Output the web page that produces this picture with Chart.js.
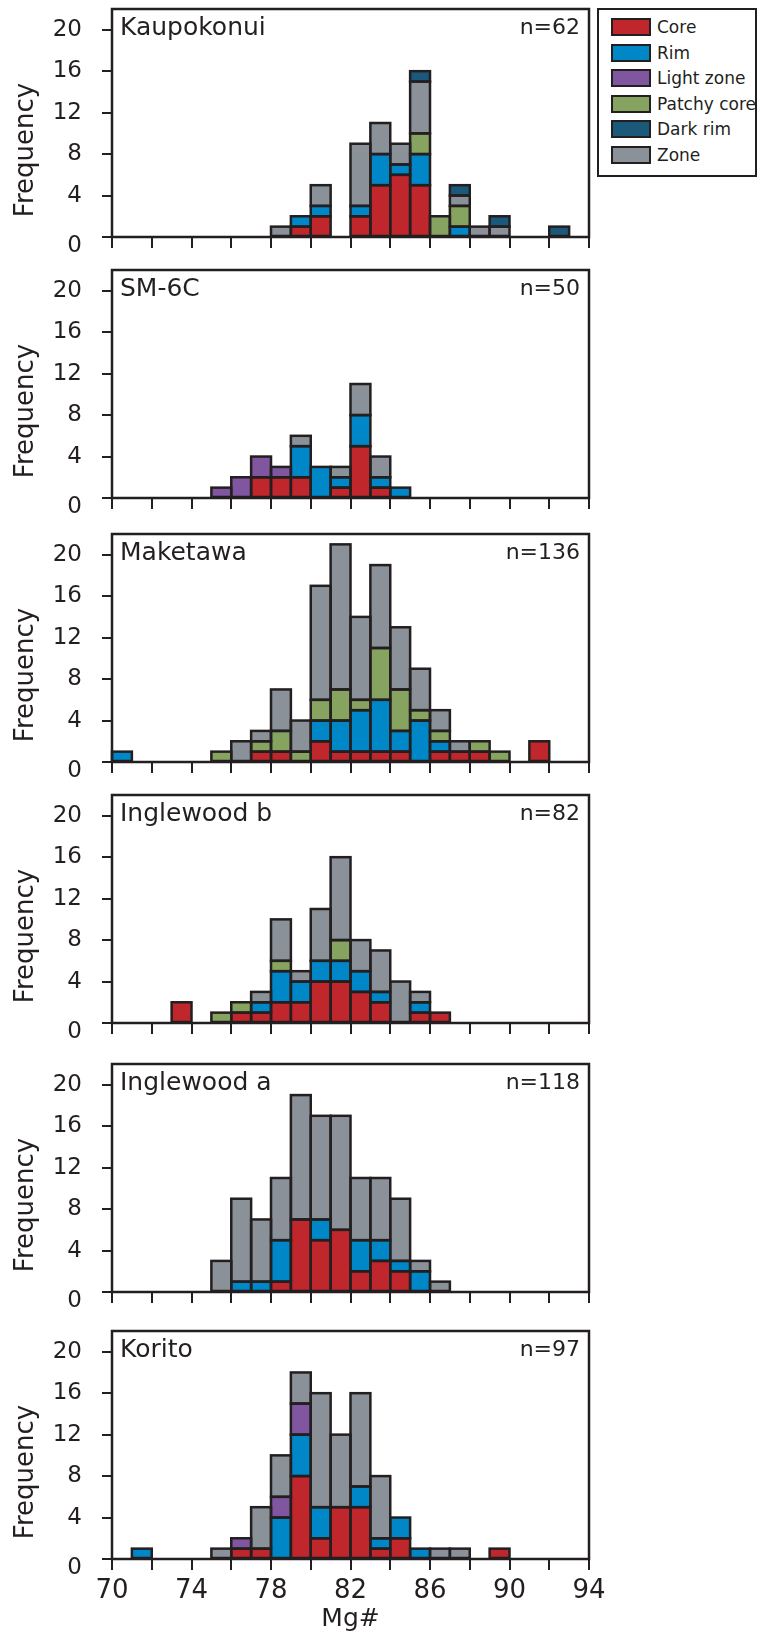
<!DOCTYPE html>
<html>
<head>
<meta charset="utf-8">
<script src="https://cdn.jsdelivr.net/npm/chart.js@4.4.1/dist/chart.umd.min.js"></script>
<style>
  body { margin: 0; background: #fff; }
  #page { position: relative; width: 761px; height: 1633px; overflow: hidden; font-family: 'DejaVu Sans', sans-serif; color: #231f20; }
  canvas { position: absolute; left: 0; }
  #legend { position: absolute; left: 597px; top: 8px; width: 160px; height: 169px; box-sizing: border-box; border: 2.5px solid #231f20; background: #fff; z-index: 2; }
  .sw { position: absolute; left: 611px; width: 40px; height: 18px; box-sizing: border-box; border: 2.5px solid #231f20; z-index: 3; }
  .lb { position: absolute; left: 657px; font-size: 17px; line-height: 22px; white-space: nowrap; z-index: 3; }
</style>
</head>
<body>
<div id="page"><div id="legend"></div></div>
<script>
// Bins de Mg# (borde izquierdo de cada barra, ancho 1)
const mgBins = [70, 71, 72, 73, 74, 75, 76, 77, 78, 79, 80, 81, 82, 83, 84, 85, 86, 87, 88, 89, 90, 91, 92, 93];
const freqTicks = [0, 4, 8, 12, 16, 20];
const mgTickLabels = [70, 74, 78, 82, 86, 90, 94];

const seriesNames = ['Core', 'Rim', 'Light zone', 'Patchy core', 'Dark rim', 'Zone'];
const seriesColors = ['#c0272d', '#0087c8', '#8056a0', '#86a45f', '#1b597a', '#8a9198'];
const stackOrder = ['Core', 'Rim', 'Light zone', 'Patchy core', 'Zone', 'Dark rim'];

const sampleNames = ['Kaupokonui', 'SM-6C', 'Maketawa', 'Inglewood b', 'Inglewood a', 'Korito'];
const sampleCounts = [62, 50, 136, 82, 118, 97];

// Kaupokonui
const kaupokonuiCore   = [0,0,0,0,0,0,0,0,0,1,2,0,2,5,6,5,0,0,0,0,0,0,0,0];
const kaupokonuiRim    = [0,0,0,0,0,0,0,0,0,1,1,0,1,3,1,3,0,1,0,0,0,0,0,0];
const kaupokonuiPatchy = [0,0,0,0,0,0,0,0,0,0,0,0,0,0,0,2,2,2,0,0,0,0,0,0];
const kaupokonuiZone   = [0,0,0,0,0,0,0,0,1,0,2,0,6,3,2,5,0,1,1,1,0,0,0,0];
const kaupokonuiDark   = [0,0,0,0,0,0,0,0,0,0,0,0,0,0,0,1,0,1,0,1,0,0,1,0];

// SM-6C
const sm6cCore  = [0,0,0,0,0,0,0,2,2,2,0,1,5,1,0,0,0,0,0,0,0,0,0,0];
const sm6cRim   = [0,0,0,0,0,0,0,0,0,3,3,1,3,1,1,0,0,0,0,0,0,0,0,0];
const sm6cLight = [0,0,0,0,0,1,2,2,1,0,0,0,0,0,0,0,0,0,0,0,0,0,0,0];
const sm6cZone  = [0,0,0,0,0,0,0,0,0,1,0,1,3,2,0,0,0,0,0,0,0,0,0,0];

// Maketawa
const maketawaCore   = [0,0,0,0,0,0,0,1,1,0,2,1,1,1,1,0,1,1,1,0,0,2,0,0];
const maketawaRim    = [1,0,0,0,0,0,0,0,0,0,2,3,4,5,2,4,1,0,0,0,0,0,0,0];
const maketawaPatchy = [0,0,0,0,0,1,0,1,2,1,2,3,1,5,4,1,1,0,1,1,0,0,0,0];
const maketawaZone   = [0,0,0,0,0,0,2,1,4,3,11,14,8,8,6,4,2,1,0,0,0,0,0,0];

// Inglewood b
const inglewoodBCore   = [0,0,0,2,0,0,1,1,2,2,4,4,3,2,0,1,1,0,0,0,0,0,0,0];
const inglewoodBRim    = [0,0,0,0,0,0,0,1,3,2,2,2,2,1,0,1,0,0,0,0,0,0,0,0];
const inglewoodBPatchy = [0,0,0,0,0,1,1,0,1,0,0,2,0,0,0,0,0,0,0,0,0,0,0,0];
const inglewoodBZone   = [0,0,0,0,0,0,0,1,4,1,5,8,3,4,4,1,0,0,0,0,0,0,0,0];

// Inglewood a
const inglewoodACore = [0,0,0,0,0,0,0,0,1,7,5,6,2,3,2,0,0,0,0,0,0,0,0,0];
const inglewoodARim  = [0,0,0,0,0,0,1,1,4,0,2,0,3,2,1,2,0,0,0,0,0,0,0,0];
const inglewoodAZone = [0,0,0,0,0,3,8,6,6,12,10,11,6,6,6,1,1,0,0,0,0,0,0,0];

// Korito
const koritoCore  = [0,0,0,0,0,0,1,1,0,8,2,5,5,1,2,0,0,0,0,1,0,0,0,0];
const koritoRim   = [0,1,0,0,0,0,0,0,4,4,3,0,2,1,2,1,0,0,0,0,0,0,0,0];
const koritoLight = [0,0,0,0,0,0,1,0,2,3,0,0,0,0,0,0,0,0,0,0,0,0,0,0];
const koritoZone  = [0,0,0,0,0,1,0,4,4,3,11,7,9,6,0,0,1,1,0,0,0,0,0,0];

const panelSeries = [
    { 'Core': kaupokonuiCore, 'Rim': kaupokonuiRim, 'Patchy core': kaupokonuiPatchy, 'Zone': kaupokonuiZone, 'Dark rim': kaupokonuiDark },
    { 'Core': sm6cCore, 'Rim': sm6cRim, 'Light zone': sm6cLight, 'Zone': sm6cZone },
    { 'Core': maketawaCore, 'Rim': maketawaRim, 'Patchy core': maketawaPatchy, 'Zone': maketawaZone },
    { 'Core': inglewoodBCore, 'Rim': inglewoodBRim, 'Patchy core': inglewoodBPatchy, 'Zone': inglewoodBZone },
    { 'Core': inglewoodACore, 'Rim': inglewoodARim, 'Zone': inglewoodAZone },
    { 'Core': koritoCore, 'Rim': koritoRim, 'Light zone': koritoLight, 'Zone': koritoZone }
];

const INK = '#231f20';
const baselines = [237, 498, 762, 1023, 1292, 1559];
const plotH = 228;

Chart.defaults.font.family = "'DejaVu Sans', sans-serif";
Chart.defaults.color = INK;

// contornos de barras, marco, etiquetas del eje y, títulos
const decor = {
    id: 'decor',
    afterDatasetsDraw(chart, args, opts) {
        const ctx = chart.ctx;
        const a = chart.chartArea;
        const yScale = chart.scales.y;
        ctx.save();
        ctx.strokeStyle = INK;
        ctx.lineWidth = 2.5;
        chart.data.datasets.forEach((ds, i) => {
            chart.getDatasetMeta(i).data.forEach((bar, j) => {
                if (!ds.data[j].y) return;
                const p = bar.getProps(['x', 'y', 'base', 'width'], true);
                ctx.strokeRect(p.x - p.width / 2, p.y, p.width, p.base - p.y);
            });
        });
        ctx.strokeRect(a.left, a.top, a.right - a.left, a.bottom - a.top);

        ctx.fillStyle = INK;
        ctx.textBaseline = 'middle';
        ctx.font = "23px 'DejaVu Sans'";
        ctx.textAlign = 'right';
        freqTicks.forEach(v => {
            ctx.fillText(String(v), 82, yScale.getPixelForValue(v) + (v === 0 ? 9 : 0));
        });

        ctx.font = "25px 'DejaVu Sans'";
        ctx.textAlign = 'left';
        ctx.fillText(opts.title, a.left + 8, a.top + 19);
        ctx.font = "22px 'DejaVu Sans'";
        ctx.textAlign = 'right';
        ctx.fillText('n=' + opts.n, a.right - 9, a.top + 19);

        ctx.translate(26, a.bottom - 87);
        ctx.rotate(-Math.PI / 2);
        ctx.textAlign = 'center';
        ctx.font = "26px 'DejaVu Sans'";
        ctx.fillText('Frequency', 0, 0);
        ctx.restore();
    }
};

const page = document.getElementById('page');

sampleNames.forEach((name, k) => {
    const last = k === sampleNames.length - 1;
    const top = baselines[k] - plotH - 10;
    const h = last ? 1633 - top : plotH + 10 + 24;
    const canvas = document.createElement('canvas');
    canvas.width = 761;
    canvas.height = h;
    canvas.style.top = top + 'px';
    page.insertBefore(canvas, page.firstChild);

    const series = panelSeries[k];
    const datasets = stackOrder.filter(s => series[s]).map(s => ({
        label: s,
        data: mgBins.map((b, i) => ({ x: b + 0.5, y: series[s][i] })),
        backgroundColor: seriesColors[seriesNames.indexOf(s)],
        borderWidth: 0,
        barPercentage: 1,
        categoryPercentage: 1
    }));

    new Chart(canvas, {
        type: 'bar',
        data: { datasets },
        options: {
            responsive: false,
            animation: false,
            devicePixelRatio: 1,
            layout: { padding: { top: 10, left: 0, right: 172, bottom: 0 } },
            plugins: {
                legend: { display: false },
                tooltip: { enabled: false },
                decor: { title: name, n: sampleCounts[k] }
            },
            scales: {
                x: {
                    type: 'linear', stacked: true, min: 70, max: 94, offset: false,
                    grid: { display: true, drawOnChartArea: false, drawTicks: true, tickLength: 11, lineWidth: 2, color: INK, offset: false },
                    border: { display: false },
                    ticks: {
                        display: last, stepSize: 2, padding: 6, font: { size: 26 }, color: INK,
                        maxRotation: 0, autoSkip: false,
                        callback: v => mgTickLabels.includes(v) ? String(v) : ''
                    },
                    title: { display: last, text: 'Mg#', font: { size: 25 }, color: INK, padding: { top: 0, bottom: -1 } },
                    afterFit: s => { s.height = h - 10 - plotH; }
                },
                y: {
                    type: 'linear', stacked: true, min: 0, max: 22,
                    grid: { display: true, drawOnChartArea: false, drawTicks: true, tickLength: 10, lineWidth: 2, color: INK },
                    border: { display: false },
                    ticks: { display: false, stepSize: 4, includeBounds: false },
                    afterFit: s => { s.width = 112; }
                }
            }
        },
        plugins: [decor]
    });
});

// Leyenda
seriesNames.forEach((s, i) => {
    const cy = 27 + i * 25.6;
    const sw = document.createElement('div');
    sw.className = 'sw';
    sw.style.top = (cy - 9) + 'px';
    sw.style.background = seriesColors[i];
    const lb = document.createElement('div');
    lb.className = 'lb';
    lb.style.top = (cy - 11) + 'px';
    lb.textContent = s;
    page.appendChild(sw);
    page.appendChild(lb);
});
</script>
</body>
</html>
